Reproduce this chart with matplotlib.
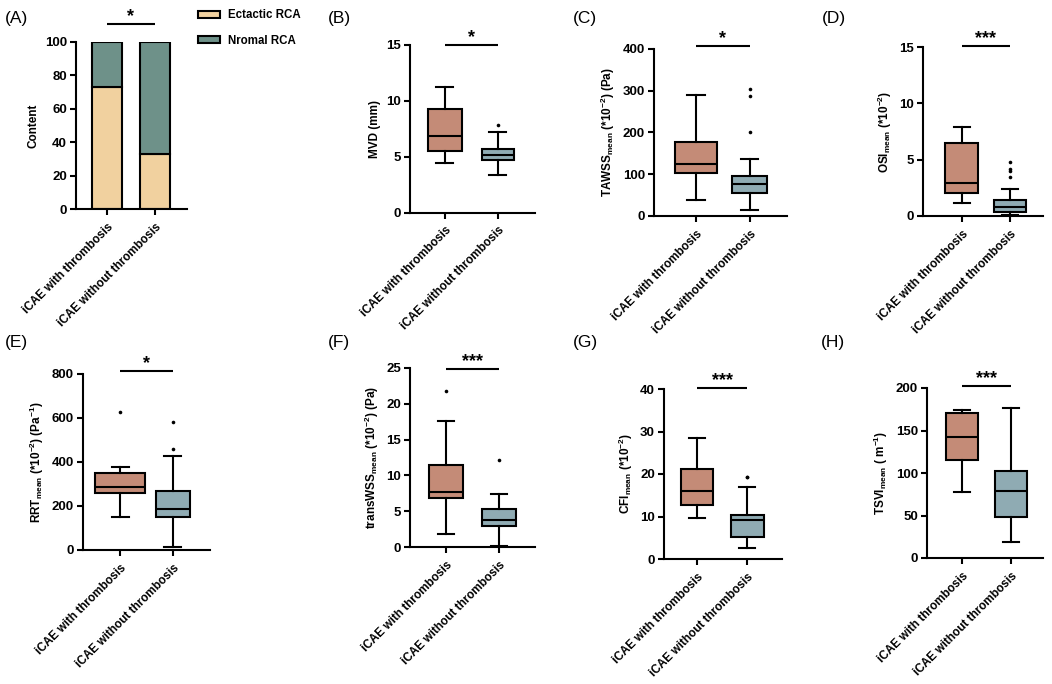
import matplotlib
matplotlib.use('Agg')
import matplotlib.pyplot as plt
from matplotlib.patches import Patch

plt.rcParams['font.family'] = ['Liberation Sans', 'DejaVu Sans']
plt.rcParams['font.weight'] = 'bold'
plt.rcParams['axes.labelweight'] = 'bold'
plt.rcParams['mathtext.fontset'] = 'custom'
plt.rcParams['mathtext.rm'] = 'Liberation Sans'
plt.rcParams['mathtext.it'] = 'Liberation Sans:italic'
plt.rcParams['mathtext.bf'] = 'Liberation Sans:bold'

# ---------------- data ----------------
groups = ['iCAE with thrombosis', 'iCAE without thrombosis']
ectatic_pct = [72.7, 33.0]
normal_pct = [27.3, 67.0]

# five-number summaries: [whisker low, Q1, median, Q3, whisker high]
mvd_with = [4.41, 5.55, 6.89, 9.28, 11.23]
mvd_with_out = []
mvd_without = [3.37, 4.68, 5.16, 5.67, 7.25]
mvd_without_out = [7.81]

tawss_with = [39, 103, 125, 178, 289]
tawss_with_out = []
tawss_without = [13.5, 56, 76, 96, 137]
tawss_without_out = [201, 286, 303]

osi_with = [1.13, 2.08, 2.96, 6.46, 7.86]
osi_with_out = []
osi_without = [0.09, 0.33, 0.77, 1.42, 2.37]
osi_without_out = [3.44, 4.02, 4.17, 4.82]

rrt_with = [150, 260, 288, 348, 379]
rrt_with_out = [629]
rrt_without = [12, 150, 185, 268, 427]
rrt_without_out = [460, 583]

transwss_with = [1.86, 6.8, 7.7, 11.5, 17.55]
transwss_with_out = [21.8]
transwss_without = [0.1, 2.9, 3.8, 5.3, 7.45]
transwss_without_out = [12.2]

cfi_with = [9.6, 12.7, 15.9, 21.1, 28.4]
cfi_with_out = []
cfi_without = [2.5, 5.2, 9.1, 10.4, 16.9]
cfi_without_out = [19.2, 19.2]

tsvi_with = [78, 115.7, 142.5, 170.9, 174]
tsvi_with_out = []
tsvi_without = [18.9, 48.4, 78.3, 102.4, 176.4]
tsvi_without_out = []

# ---------------- styling ----------------
W, H = 1052, 684
C_WITH = '#C48B77'
C_WITHOUT = '#8FABB3'
C_ECT = '#F1D19F'
C_NORM = '#6E9189'
LW = 1.5
TICK_FS = 9.5
LABEL_FS = 8.5

fig = plt.figure(figsize=(W / 100, H / 100), dpi=100)


def add_ax(left, top, right, bottom):
    return fig.add_axes([left / W, 1 - bottom / H, (right - left) / W, (bottom - top) / H])


def style_ax(ax, xlim, ylim, yticks):
    ax.set_xlim(*xlim)
    ax.set_ylim(*ylim)
    ax.set_yticks(yticks)
    ax.set_xticks([0, 1])
    ax.set_xticklabels(groups, rotation=45, ha='right', rotation_mode='anchor',
                       fontsize=LABEL_FS, fontweight='bold')
    for s in ['top', 'right']:
        ax.spines[s].set_visible(False)
    for s in ['left', 'bottom']:
        ax.spines[s].set_linewidth(LW)
    ax.tick_params(axis='both', direction='out', width=LW, length=4.5, pad=2)
    ax.tick_params(axis='y', labelsize=TICK_FS)
    ax.tick_params(axis='x', pad=4)
    for t in ax.get_yticklabels():
        t.set_fontweight('bold')


def sig(ax, y, stars):
    ax.plot([0, 1], [y, y], color='black', lw=LW, clip_on=False, solid_capstyle='butt')
    ax.annotate(stars, xy=(0.5, y), xytext=(0, -1.0), textcoords='offset points',
                ha='center', va='bottom', fontsize=13, fontweight='bold', annotation_clip=False)


def box_panel(ax, s1, f1, s2, f2, widths):
    stats = []
    for s, f in ((s1, f1), (s2, f2)):
        stats.append(dict(whislo=s[0], q1=s[1], med=s[2], q3=s[3], whishi=s[4], fliers=f))
    bp = ax.bxp(stats, positions=[0, 1], widths=widths, patch_artist=True, showfliers=True,
                capwidths=0.32,
                boxprops=dict(linewidth=LW, edgecolor='black'),
                medianprops=dict(linewidth=LW, color='black'),
                whiskerprops=dict(linewidth=LW, color='black'),
                capprops=dict(linewidth=LW, color='black'),
                flierprops=dict(marker='o', markersize=2.6, markerfacecolor='black',
                                markeredgewidth=0, linestyle='none'))
    for patch, c in zip(bp['boxes'], [C_WITH, C_WITHOUT]):
        patch.set_facecolor(c)


def panel_label(x, y, txt):
    fig.text(x / W, 1 - y / H, txt, fontsize=12.5, fontweight='normal', ha='left', va='center')


# ---------------- (A) stacked bars ----------------
axA = add_ax(76, 41.7, 187, 209)
axA.bar([0, 1], ectatic_pct, width=0.64, color=C_ECT, edgecolor='black', linewidth=LW)
axA.bar([0, 1], normal_pct, bottom=ectatic_pct, width=0.64, color=C_NORM, edgecolor='black', linewidth=LW)
style_ax(axA, (-0.646, 1.667), (0, 100), [0, 20, 40, 60, 80, 100])
axA.set_ylabel('Content', fontsize=LABEL_FS)
sig(axA, 110.6, '*')
fig.legend(handles=[Patch(facecolor=C_ECT, edgecolor='black', linewidth=LW),
                    Patch(facecolor=C_NORM, edgecolor='black', linewidth=LW)],
           labels=['Ectactic RCA', 'Nromal RCA'], loc='upper left',
           bbox_to_anchor=(188 / W, 1 + 1 / H), frameon=False,
           handlelength=1.85, handleheight=0.55, handletextpad=0.7, labelspacing=1.15,
           prop=dict(weight='bold', size=8.3))

# ---------------- box panels ----------------
panels = [
    ((410, 45, 535, 212.7), (-0.66, 1.70), (0, 15), [0, 5, 10, 15], 'MVD (mm)',
     mvd_with, mvd_with_out, mvd_without, mvd_without_out, [0.64, 0.62], 15.0, '*'),
    ((654, 48.7, 787, 216), (-0.78, 1.69), (0, 400), [0, 100, 200, 300, 400],
     r'TAWSS$_{\mathrm{mean}}$ (*10$^{\mathrm{-2}}$) (Pa)',
     tawss_with, tawss_with_out, tawss_without, tawss_without_out, [0.78, 0.65], 407, '*'),
    ((923, 47, 1043, 216), (-0.81, 1.69), (0, 15), [0, 5, 10, 15],
     r'OSI$_{\mathrm{mean}}$ (*10$^{\mathrm{-2}}$)',
     osi_with, osi_with_out, osi_without, osi_without_out, [0.69, 0.67], 15.1, '***'),
    ((83, 374, 210, 550), (-0.70, 1.70), (0, 800), [0, 200, 400, 600, 800],
     r'RRT$_{\mathrm{mean}}$ (*10$^{\mathrm{-2}}$) (Pa$^{\mathrm{-1}}$)',
     rrt_with, rrt_with_out, rrt_without, rrt_without_out, [0.96, 0.64], 815, '*'),
    ((410, 368, 535, 547), (-0.68, 1.68), (0, 25), [0, 5, 10, 15, 20, 25],
     r'transWSS$_{\mathrm{mean}}$ (*10$^{\mathrm{-2}}$) (Pa)',
     transwss_with, transwss_with_out, transwss_without, transwss_without_out, [0.66, 0.66], 24.9, '***'),
    ((664, 389, 782, 559), (-0.66, 1.70), (0, 40), [0, 10, 20, 30, 40],
     r'CFI$_{\mathrm{mean}}$ (*10$^{\mathrm{-2}}$)',
     cfi_with, cfi_with_out, cfi_without, cfi_without_out, [0.63, 0.66], 40.2, '***'),
    ((927, 388, 1043, 558), (-0.71, 1.65), (0, 200), [0, 50, 100, 150, 200],
     r'TSVI$_{\mathrm{mean}}$ ( m$^{\mathrm{-1}}$)',
     tsvi_with, tsvi_with_out, tsvi_without, tsvi_without_out, [0.65, 0.65], 202.4, '***'),
]

for (rect, xlim, ylim, yt, ylab, s1, f1, s2, f2, wd, sy, st) in panels:
    ax = add_ax(*rect)
    box_panel(ax, s1, f1, s2, f2, wd)
    style_ax(ax, xlim, ylim, yt)
    ax.set_ylabel(ylab, fontsize=LABEL_FS)
    sig(ax, sy, st)

for (x, y, t) in [(5, 18.5, '(A)'), (328, 18.5, '(B)'), (573, 18.5, '(C)'), (822, 18.5, '(D)'),
                  (5, 343, '(E)'), (328, 343, '(F)'), (573, 343, '(G)'), (821, 343, '(H)')]:
    panel_label(x, y, t)

fig.savefig('out.png', dpi=100)
